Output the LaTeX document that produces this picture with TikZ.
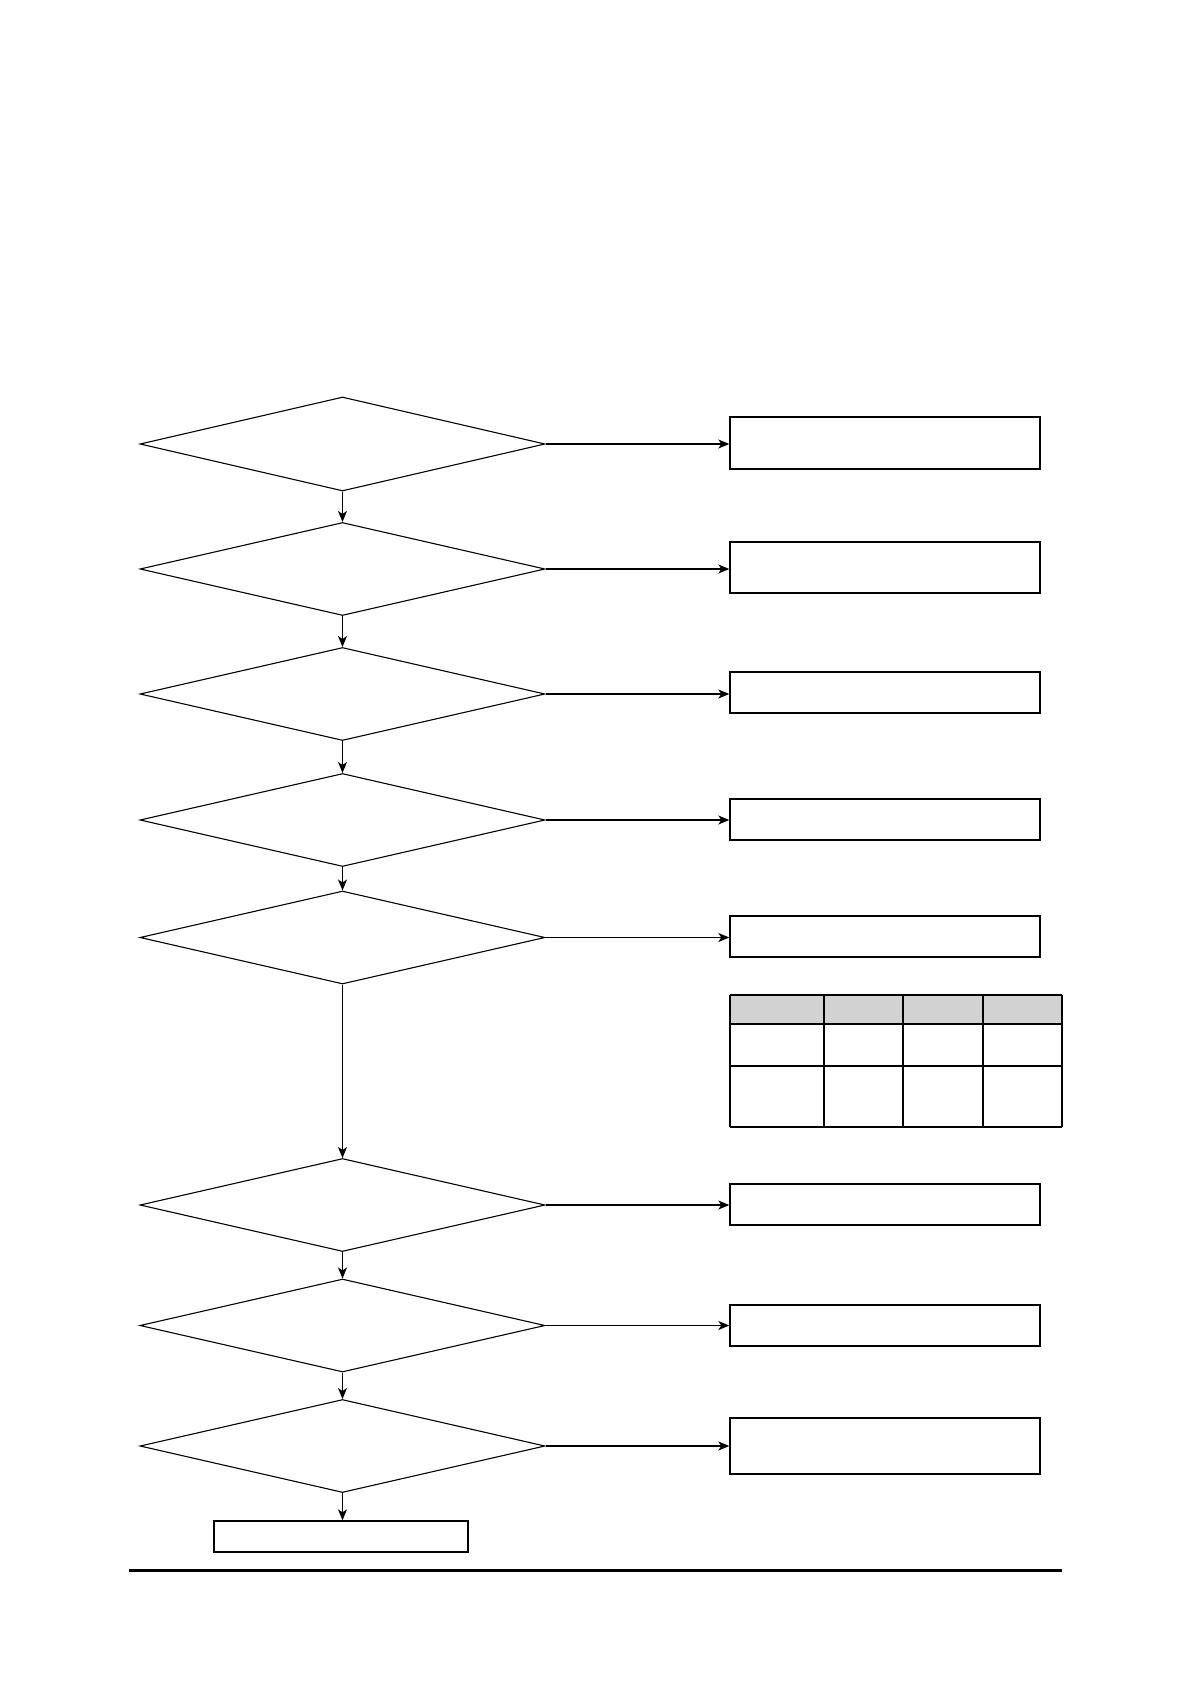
\documentclass[tikz,border=0pt]{standalone}
\usetikzlibrary{shapes.geometric,arrows.meta}
\begin{document}
\begin{tikzpicture}[x=0.5pt,y=-0.5pt,
  dec/.style={draw, line width=0.55pt, shape=diamond, inner sep=0pt, minimum width=202.5pt, minimum height=46.5pt},
  resbox/.style={draw, line width=0.7pt, rectangle, inner sep=0pt, minimum width=155pt},
  flow/.style={line width=0.55pt, -{Stealth[length=5.5pt,width=4.5pt,inset=1.5pt]}},
  cell/.style={draw, line width=0.7pt}]
\useasboundingbox (0,0) rectangle (1191,1684);
\fill[white] (0,0) rectangle (1191,1684);
% decisions
\node[dec, minimum height=47pt] (d1) at (342.5,444) {};
\node[dec] (d2) at (342.5,569) {};
\node[dec] (d3) at (342.5,694) {};
\node[dec] (d4) at (342.5,820) {};
\node[dec] (d5) at (342.5,937.5) {};
\node[dec] (d6) at (342.5,1205) {};
\node[dec] (d7) at (342.5,1325.5) {};
\node[dec] (d8) at (342.5,1446) {};
% result boxes
\node[resbox, minimum height=26pt] (b1) at (885,443) {};
\node[resbox, minimum height=25.5pt] (b2) at (885,567.5) {};
\node[resbox, minimum height=20.5pt] (b3) at (885,692.5) {};
\node[resbox, minimum height=20.5pt] (b4) at (885,819.5) {};
\node[resbox, minimum height=20.5pt] (b5) at (885,936.5) {};
\node[resbox, minimum height=20.5pt] (b6) at (885,1204.5) {};
\node[resbox, minimum height=20.5pt] (b7) at (885,1325.5) {};
\node[resbox, minimum height=28pt] (b8) at (885,1446) {};
\node[draw, line width=0.7pt, rectangle, inner sep=0pt, minimum width=127pt, minimum height=15.5pt] (end) at (341,1536.5) {};
% connectors
\foreach \i in {1,...,8} {
  \draw[flow] (d\i.east) -- (d\i.east -| b\i.west);
}
\draw[flow] (d1.south) -- (d2.north);
\draw[flow] (d2.south) -- (d3.north);
\draw[flow] (d3.south) -- (d4.north);
\draw[flow] (d4.south) -- (d5.north);
\draw[flow] (d5.south) -- (d6.north);
\draw[flow] (d6.south) -- (d7.north);
\draw[flow] (d7.south) -- (d8.north);
\draw[flow] (d8.south) -- (end.north -| d8.south);
% table
\fill[gray!35] (730,995) rectangle (1062,1024);
\foreach \xa in {730,824,903,983,1062} { \draw[cell] (\xa,995) -- (\xa,1127); }
\foreach \ya in {995,1024,1066,1127} { \draw[cell] (730,\ya) -- (1062,\ya); }
% bottom rule
\draw[line width=1.5pt] (129,1570) -- (1062,1570);
\end{tikzpicture}
\end{document}
